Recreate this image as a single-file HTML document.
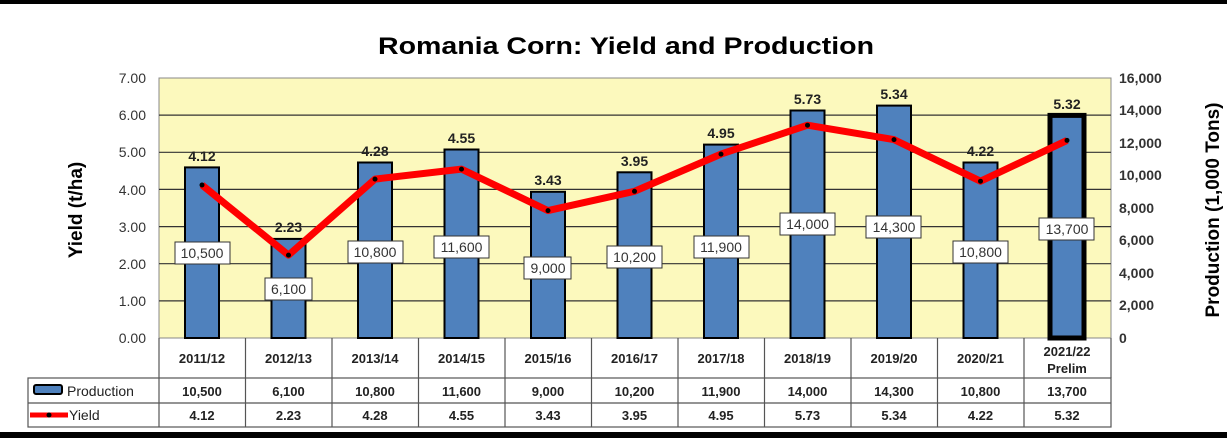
<!DOCTYPE html>
<html><head><style>body{margin:0;background:#fff}svg{display:block}text{font-family:"Liberation Sans",Arial,sans-serif}</style></head>
<body>
<svg width="1227" height="443" viewBox="0 0 1227 443" xmlns="http://www.w3.org/2000/svg">
<rect x="0" y="0" width="1227" height="4" fill="#000"/>
<rect x="0" y="432" width="1227" height="6" fill="#000"/>
<text x="626" y="54" font-size="24" font-weight="bold" text-anchor="middle" textLength="496" lengthAdjust="spacingAndGlyphs">Romania Corn: Yield and Production</text>
<rect x="159" y="78" width="952" height="260" fill="#fcf9bd" stroke="#888" stroke-width="1"/>
<g stroke="#333" stroke-width="1.2">
<line x1="159" y1="115.1" x2="1111" y2="115.1"/><line x1="159" y1="152.3" x2="1111" y2="152.3"/>
<line x1="159" y1="189.4" x2="1111" y2="189.4"/><line x1="159" y1="226.6" x2="1111" y2="226.6"/>
<line x1="159" y1="263.7" x2="1111" y2="263.7"/><line x1="159" y1="300.9" x2="1111" y2="300.9"/>
</g>
<g font-size="14" fill="#333" text-anchor="end">
<text x="146" y="83">7.00</text><text x="146" y="120">6.00</text><text x="146" y="157">5.00</text><text x="146" y="195">4.00</text><text x="146" y="232">3.00</text><text x="146" y="269">2.00</text><text x="146" y="306">1.00</text><text x="146" y="343">0.00</text>
</g>
<g font-size="14" fill="#333" font-weight="bold">
<text x="1119" y="83">16,000</text><text x="1119" y="115">14,000</text><text x="1119" y="148">12,000</text><text x="1119" y="180">10,000</text><text x="1119" y="213">8,000</text><text x="1119" y="245">6,000</text><text x="1119" y="278">4,000</text><text x="1119" y="310">2,000</text><text x="1119" y="343">0</text>
</g>
<text transform="translate(82,210) rotate(-90)" font-size="19" font-weight="bold" text-anchor="middle">Yield (t/ha)</text>
<text transform="translate(1219,210) rotate(-90)" font-size="19" font-weight="bold" text-anchor="middle">Production (1,000 Tons)</text>
<g fill="#4f81bd" stroke="#000" stroke-width="2">
<rect x="185" y="167.4" width="34" height="170.6"/>
<rect x="271.5" y="238.9" width="34" height="99.1"/>
<rect x="358" y="162.5" width="34" height="175.5"/>
<rect x="444.5" y="149.5" width="34" height="188.5"/>
<rect x="531" y="191.8" width="34" height="146.2"/>
<rect x="617.5" y="172.3" width="34" height="165.7"/>
<rect x="704" y="144.6" width="34" height="193.4"/>
<rect x="790.5" y="110.5" width="34" height="227.5"/>
<rect x="877" y="105.6" width="34" height="232.4"/>
<rect x="963.5" y="162.5" width="34" height="175.5"/>
<rect x="1050" y="115.4" width="34" height="222.6" stroke-width="5"/>
</g>
<polyline fill="none" stroke="#f00" stroke-width="7" stroke-linejoin="round" points="202,185 288.5,255.1 375,179.1 461.5,169.1 548,210.6 634.5,191.3 721,154.1 807.5,125.2 894,139.6 980.5,181.2 1067,140.4"/>
<g fill="#000">
<circle cx="202" cy="185" r="2.5"/><circle cx="288.5" cy="255.1" r="2.5"/><circle cx="375" cy="179.1" r="2.5"/><circle cx="461.5" cy="169.1" r="2.5"/><circle cx="548" cy="210.6" r="2.5"/><circle cx="634.5" cy="191.3" r="2.5"/><circle cx="721" cy="154.1" r="2.5"/><circle cx="807.5" cy="125.2" r="2.5"/><circle cx="894" cy="139.6" r="2.5"/><circle cx="980.5" cy="181.2" r="2.5"/><circle cx="1067" cy="140.4" r="2.5"/>
</g>
<g font-size="14" font-weight="bold" text-anchor="middle" fill="#222">
<text x="202" y="161">4.12</text><text x="288.5" y="232">2.23</text><text x="375" y="156">4.28</text><text x="461.5" y="143">4.55</text><text x="548" y="185">3.43</text><text x="634.5" y="166">3.95</text><text x="721" y="138">4.95</text><text x="807.5" y="104">5.73</text><text x="894" y="99">5.34</text><text x="980.5" y="156">4.22</text><text x="1067" y="109">5.32</text>
</g>
<g font-size="14" text-anchor="middle" fill="#333">
<rect x="175" y="242" width="55" height="22" fill="#fff" stroke="#333"/><text x="202" y="258">10,500</text>
<rect x="265" y="278" width="47" height="22" fill="#fff" stroke="#333"/><text x="288.5" y="294">6,100</text>
<rect x="348" y="241" width="55" height="22" fill="#fff" stroke="#333"/><text x="375" y="257">10,800</text>
<rect x="434" y="236" width="55" height="22" fill="#fff" stroke="#333"/><text x="461.5" y="252">11,600</text>
<rect x="524" y="257" width="47" height="22" fill="#fff" stroke="#333"/><text x="548" y="273">9,000</text>
<rect x="607" y="246" width="55" height="22" fill="#fff" stroke="#333"/><text x="634.5" y="262">10,200</text>
<rect x="694" y="236" width="55" height="22" fill="#fff" stroke="#333"/><text x="721" y="252">11,900</text>
<rect x="780" y="213" width="55" height="22" fill="#fff" stroke="#333"/><text x="807.5" y="229">14,000</text>
<rect x="866" y="216" width="55" height="22" fill="#fff" stroke="#333"/><text x="894" y="232">14,300</text>
<rect x="953" y="241" width="55" height="22" fill="#fff" stroke="#333"/><text x="980.5" y="257">10,800</text>
<rect x="1039" y="218" width="55" height="22" fill="#fff" stroke="#333"/><text x="1067" y="234">13,700</text>
</g>
<g stroke="#555" stroke-width="1.2" fill="none">
<line x1="159" y1="338" x2="159" y2="427"/>
<rect x="28" y="378" width="1083" height="49"/>
<line x1="28" y1="403" x2="1111" y2="403"/>
<line x1="1111" y1="338" x2="1111" y2="378"/>
<line x1="245.5" y1="338" x2="245.5" y2="427"/><line x1="332" y1="338" x2="332" y2="427"/><line x1="418.5" y1="338" x2="418.5" y2="427"/><line x1="505" y1="338" x2="505" y2="427"/><line x1="591.5" y1="338" x2="591.5" y2="427"/><line x1="678" y1="338" x2="678" y2="427"/><line x1="764.5" y1="338" x2="764.5" y2="427"/><line x1="851" y1="338" x2="851" y2="427"/><line x1="937.5" y1="338" x2="937.5" y2="427"/><line x1="1024" y1="338" x2="1024" y2="427"/>
</g>
<g font-size="13" font-weight="bold" text-anchor="middle" fill="#222">
<text x="202" y="363">2011/12</text><text x="288.5" y="363">2012/13</text><text x="375" y="363">2013/14</text><text x="461.5" y="363">2014/15</text><text x="548" y="363">2015/16</text><text x="634.5" y="363">2016/17</text><text x="721" y="363">2017/18</text><text x="807.5" y="363">2018/19</text><text x="894" y="363">2019/20</text><text x="980.5" y="363">2020/21</text><text x="1067" y="356">2021/22</text><text x="1067" y="373">Prelim</text>
<text x="202" y="396">10,500</text><text x="288.5" y="396">6,100</text><text x="375" y="396">10,800</text><text x="461.5" y="396">11,600</text><text x="548" y="396">9,000</text><text x="634.5" y="396">10,200</text><text x="721" y="396">11,900</text><text x="807.5" y="396">14,000</text><text x="894" y="396">14,300</text><text x="980.5" y="396">10,800</text><text x="1067" y="396">13,700</text>
<text x="202" y="420">4.12</text><text x="288.5" y="420">2.23</text><text x="375" y="420">4.28</text><text x="461.5" y="420">4.55</text><text x="548" y="420">3.43</text><text x="634.5" y="420">3.95</text><text x="721" y="420">4.95</text><text x="807.5" y="420">5.73</text><text x="894" y="420">5.34</text><text x="980.5" y="420">4.22</text><text x="1067" y="420">5.32</text>
</g>
<rect x="34" y="385" width="28" height="9" fill="#4f81bd" stroke="#000" stroke-width="2" rx="2"/>
<text x="67" y="396" font-size="14" fill="#222">Production</text>
<line x1="30" y1="415" x2="68" y2="415" stroke="#f00" stroke-width="5"/>
<circle cx="49" cy="415" r="2.5" fill="#000"/>
<text x="69" y="420" font-size="14" fill="#222">Yield</text>
</svg>
</body></html>
